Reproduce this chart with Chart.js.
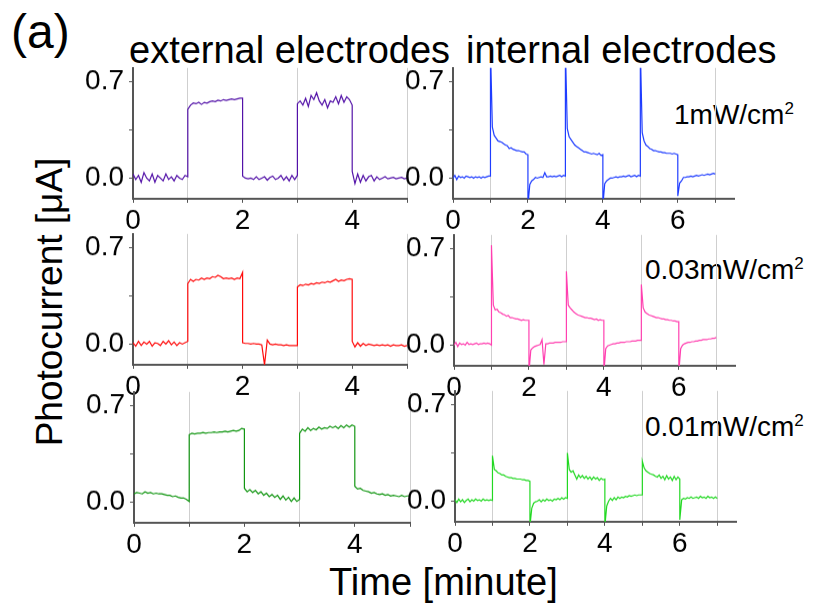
<!DOCTYPE html>
<html>
<head>
<meta charset="utf-8">
<script src="https://cdn.jsdelivr.net/npm/chart.js@4.4.1/dist/chart.umd.min.js"></script>
<style>
  html, body { margin: 0; padding: 0; background: #fff; }
  body { width: 819px; height: 611px; position: relative; overflow: hidden;
         font-family: "Liberation Sans", Arial, sans-serif; color: #000; }
  canvas { position: absolute; }
  .txt { position: absolute; white-space: nowrap; line-height: 1; }
  .sup { font-size: 17px; position: relative; top: -10px; }
</style>
</head>
<body>
<div class="txt" style="left:11px; top:8px; font-size:48px;">(a)</div>
<div class="txt" style="left:129px; top:31px; font-size:38px;">external electrodes</div>
<div class="txt" style="left:466px; top:31px; font-size:38px;">internal electrodes</div>
<div class="txt" style="left:49px; top:302px; font-size:37px; transform: translate(-50%, -50%) rotate(-90deg);">Photocurrent [μA]</div>
<div class="txt" style="left:329px; top:563px; font-size:38px;">Time [minute]</div>
<div class="txt" style="left:674px; top:101px; font-size:28px;">1mW/cm<span class="sup">2</span></div>
<div class="txt" style="left:645px; top:256px; font-size:28px;">0.03mW/cm<span class="sup">2</span></div>
<div class="txt" style="left:645px; top:413px; font-size:28px;">0.01mW/cm<span class="sup">2</span></div>

<script>
// Light switching times (minutes): each trace is stored as one segment per interval,
// sampled every 0.05 min from the start to the end of the interval.
const switchExternal = [0, 1, 2, 3, 4, 5];
const switchInternal = [0, 1, 2, 3, 4, 5, 6, 7];
const sampleStep = 0.05;

// Tick values
const xTicksExternal = [0, 1, 2, 3, 4, 5];
const xTicksInternal = [0, 1, 2, 3, 4, 5, 6, 7];
const yTicks = [0, 0.35, 0.7];
const yTickLabels = ['0.0', '', '0.7'];

// External electrodes, 1 mW/cm2 (µA)
const ext1mW = [
  [0.03, -0.01, 0.02, -0.03, 0.04, 0.0, -0.02, 0.03, -0.03, 0.02, 0.0, -0.02, 0.03, -0.01, 0.01, -0.02, 0.02, 0.0, -0.01, 0.02, 0.01],
  [0.50, 0.53, 0.545, 0.54, 0.55, 0.535, 0.55, 0.545, 0.555, 0.56, 0.555, 0.565, 0.56, 0.57, 0.565, 0.57, 0.575, 0.57, 0.575, 0.58, 0.58],
  [0.015, 0.0, -0.005, 0.0, -0.01, 0.01, -0.01, 0.0, 0.01, -0.015, 0.005, 0.015, -0.01, 0.0, 0.02, -0.015, 0.01, -0.02, 0.02, -0.01, 0.02],
  [0.54, 0.56, 0.53, 0.58, 0.52, 0.60, 0.57, 0.62, 0.56, 0.53, 0.57, 0.51, 0.56, 0.55, 0.59, 0.54, 0.60, 0.55, 0.59, 0.57, 0.53],
  [0.05, -0.04, 0.03, -0.03, 0.02, -0.02, 0.01, 0.02, -0.02, 0.01, -0.01, 0.0, 0.01, -0.005, 0.0, 0.005, -0.005, 0.0, 0.005, -0.005, 0.0]
];

// Internal electrodes, 1 mW/cm2
const int1mW = [
  [0.0, 0.02, -0.01, 0.015, 0.005, 0.01, 0.0, 0.015, 0.01, 0.005, 0.01, 0.0, 0.01, 0.005, 0.01, 0.0, 0.01, 0.005, 0.01, 0.015, 0.015],
  [0.95, 0.37, 0.31, 0.29, 0.27, 0.265, 0.26, 0.25, 0.24, 0.235, 0.215, 0.22, 0.21, 0.205, 0.2, 0.2, 0.195, 0.19, 0.19, 0.175, 0.17],
  [-0.2, -0.045, -0.02, -0.01, 0.005, 0.0, 0.005, 0.01, 0.005, 0.04, 0.01, 0.01, 0.015, 0.01, 0.015, 0.01, 0.015, 0.02, 0.01, 0.02, 0.015],
  [0.95, 0.36, 0.30, 0.28, 0.26, 0.24, 0.23, 0.22, 0.21, 0.2, 0.19, 0.19, 0.185, 0.18, 0.175, 0.18, 0.175, 0.17, 0.18, 0.165, 0.17],
  [-0.2, -0.04, -0.02, -0.01, 0.0, 0.0, 0.005, 0.01, 0.005, 0.01, 0.01, 0.015, 0.01, 0.015, 0.02, 0.01, 0.015, 0.02, 0.01, 0.02, 0.015],
  [0.95, 0.33, 0.27, 0.24, 0.23, 0.215, 0.21, 0.2, 0.2, 0.195, 0.19, 0.19, 0.185, 0.185, 0.18, 0.18, 0.18, 0.175, 0.18, 0.175, 0.17],
  [-0.13, -0.035, -0.02, 0.005, 0.005, 0.01, 0.01, 0.015, 0.01, 0.015, 0.02, 0.015, 0.02, 0.025, 0.02, 0.025, 0.03, 0.025, 0.03, 0.035, 0.03]
];

// External electrodes, 0.03 mW/cm2
const ext003mW = [
  [0.01, -0.015, 0.02, -0.01, 0.015, 0.0, 0.02, -0.015, 0.01, 0.005, -0.01, 0.02, 0.0, 0.025, -0.005, 0.015, -0.01, 0.01, 0.0, 0.01, 0.02],
  [0.44, 0.47, 0.455, 0.47, 0.465, 0.48, 0.47, 0.48, 0.475, 0.49, 0.485, 0.50, 0.49, 0.475, 0.48, 0.475, 0.48, 0.47, 0.48, 0.475, 0.52],
  [0.01, 0.005, 0.005, 0.0, 0.005, 0.0, 0.0, -0.005, -0.15, 0.03, 0.0, -0.005, 0.0, -0.005, -0.005, -0.01, -0.005, -0.01, -0.01, -0.01, -0.01],
  [0.415, 0.43, 0.425, 0.435, 0.43, 0.44, 0.435, 0.445, 0.44, 0.45, 0.445, 0.455, 0.45, 0.46, 0.47, 0.455, 0.465, 0.46, 0.47, 0.475, 0.47],
  [0.02, -0.02, 0.01, -0.015, 0.005, -0.01, 0.0, -0.005, -0.01, -0.005, -0.01, -0.005, -0.01, -0.005, -0.015, -0.005, -0.01, -0.01, -0.005, -0.015, -0.01]
];

// Internal electrodes, 0.03 mW/cm2
const int003mW = [
  [0.0, 0.02, -0.01, 0.015, 0.005, 0.01, 0.0, 0.02, 0.005, 0.01, 0.005, 0.01, 0.015, 0.005, 0.01, 0.01, 0.015, 0.01, 0.015, 0.01, 0.0],
  [0.725, 0.29, 0.255, 0.26, 0.24, 0.235, 0.225, 0.22, 0.21, 0.215, 0.2, 0.2, 0.195, 0.19, 0.19, 0.185, 0.18, 0.185, 0.18, 0.18, 0.18],
  [-0.2, -0.035, -0.02, -0.01, -0.005, 0.0, 0.005, 0.04, -0.14, 0.01, 0.01, 0.015, 0.015, 0.015, 0.02, 0.02, 0.02, 0.02, 0.025, 0.025, 0.025],
  [0.535, 0.29, 0.27, 0.255, 0.24, 0.23, 0.22, 0.215, 0.21, 0.205, 0.2, 0.2, 0.195, 0.195, 0.19, 0.185, 0.19, 0.18, 0.185, 0.18, 0.18],
  [-0.2, -0.025, -0.005, 0.0, 0.005, 0.01, 0.01, 0.015, 0.015, 0.02, 0.02, 0.02, 0.025, 0.025, 0.025, 0.03, 0.03, 0.03, 0.035, 0.035, 0.035],
  [0.44, 0.27, 0.24, 0.23, 0.22, 0.215, 0.21, 0.205, 0.2, 0.2, 0.195, 0.19, 0.19, 0.185, 0.185, 0.18, 0.18, 0.175, 0.175, 0.17, 0.17],
  [-0.2, -0.025, 0.0, 0.01, 0.015, 0.02, 0.02, 0.025, 0.025, 0.03, 0.03, 0.035, 0.035, 0.04, 0.04, 0.04, 0.045, 0.045, 0.05, 0.05, 0.055]
];

// External electrodes, 0.01 mW/cm2
const ext001mW = [
  [0.06, 0.07, 0.065, 0.06, 0.075, 0.065, 0.07, 0.06, 0.065, 0.06, 0.06, 0.055, 0.05, 0.05, 0.04, 0.045, 0.035, 0.03, 0.03, 0.02, 0.005],
  [0.49, 0.5, 0.495, 0.5, 0.5, 0.505, 0.5, 0.505, 0.505, 0.51, 0.505, 0.51, 0.51, 0.515, 0.51, 0.515, 0.52, 0.515, 0.52, 0.535, 0.53],
  [0.1, 0.075, 0.09, 0.07, 0.085, 0.06, 0.075, 0.05, 0.065, 0.04, 0.055, 0.035, 0.05, 0.02, 0.045, 0.015, 0.035, 0.005, 0.03, 0.005, 0.02],
  [0.5, 0.53, 0.515, 0.54, 0.52, 0.535, 0.525, 0.545, 0.53, 0.54, 0.535, 0.55, 0.54, 0.55, 0.535, 0.555, 0.54, 0.56, 0.545, 0.56, 0.55],
  [0.115, 0.095, 0.1, 0.085, 0.08, 0.075, 0.065, 0.07, 0.06, 0.055, 0.06, 0.05, 0.055, 0.045, 0.05, 0.045, 0.04, 0.05, 0.04, 0.045, 0.045]
];

// Internal electrodes, 0.01 mW/cm2
const int001mW = [
  [0.01, -0.01, 0.015, -0.005, 0.01, -0.01, 0.005, 0.015, -0.005, 0.01, 0.0, 0.015, 0.005, 0.01, 0.0, 0.015, 0.005, 0.01, 0.005, 0.01, 0.005],
  [0.33, 0.23, 0.22, 0.205, 0.2, 0.19, 0.19, 0.18, 0.175, 0.17, 0.17, 0.165, 0.165, 0.16, 0.16, 0.16, 0.155, 0.155, 0.15, 0.15, 0.145],
  [-0.18, -0.05, -0.015, -0.005, 0.0, 0.01, -0.005, 0.01, 0.0, 0.015, 0.005, 0.01, 0.0, 0.015, 0.01, 0.02, 0.01, 0.025, 0.015, 0.025, 0.02],
  [0.35, 0.23, 0.21, 0.22, 0.19, 0.16, 0.19, 0.17, 0.185, 0.165, 0.18, 0.16, 0.175, 0.155, 0.175, 0.16, 0.17, 0.15, 0.165, 0.155, 0.16],
  [-0.18, -0.035, 0.0, 0.02, 0.005, 0.025, 0.01, 0.03, 0.02, 0.03, 0.025, 0.035, 0.03, 0.04, 0.035, 0.04, 0.045, 0.04, 0.045, 0.045, 0.045],
  [0.29, 0.24, 0.22, 0.21, 0.2, 0.195, 0.19, 0.18, 0.175, 0.19, 0.165, 0.18, 0.155, 0.185, 0.16, 0.175, 0.15, 0.18, 0.155, 0.175, 0.16],
  [-0.135, 0.01, 0.02, 0.015, 0.025, 0.02, 0.03, 0.02, 0.025, 0.03, 0.02, 0.035, 0.025, 0.03, 0.02, 0.035, 0.025, 0.03, 0.02, 0.03, 0.02]
];

const FONT = "'Liberation Sans', Arial, sans-serif";
const PAD_TOP = 20, PAD_RIGHT = 15, Y_AXIS_W = 75, X_AXIS_H = 45;

// Turn the per-interval segments into {x, y} points; neighbouring segments share
// the switching time, which gives the vertical on/off edges.
function toPoints(segments, switches) {
  const pts = [];
  segments.forEach((seg, j) => {
    seg.forEach((v, i) => pts.push({ x: switches[j] + i * sampleStep, y: v }));
  });
  return pts;
}

function makePanel(p) {
  const w = (p.right - p.left), h = (p.bottom - p.top);
  let cw = w + Y_AXIS_W + PAD_RIGHT, ch = h + PAD_TOP + X_AXIS_H;

  const build = (cw, ch) => {
    const canvas = document.createElement('canvas');
    canvas.width = cw; canvas.height = ch;
    canvas.style.width = cw + 'px'; canvas.style.height = ch + 'px';
    canvas.style.left = (p.left - Y_AXIS_W) + 'px';
    canvas.style.top = (p.top - PAD_TOP) + 'px';
    document.body.appendChild(canvas);
    const chart = new Chart(canvas, {
      type: 'line',
      data: {
        datasets: [{
          data: toPoints(p.values, p.switches),
          borderColor: p.color,
          borderWidth: 1.2,
          pointRadius: 0,
          tension: 0,
          fill: false
        }]
      },
      options: {
        responsive: false,
        animation: false,
        events: [],
        layout: { padding: { top: PAD_TOP, right: PAD_RIGHT, left: 0, bottom: 0 } },
        plugins: { legend: { display: false }, tooltip: { enabled: false } },
        scales: {
          x: {
            type: 'linear',
            min: 0,
            max: p.xMax,
            afterBuildTicks: s => { s.ticks = p.xTicks.map(v => ({ value: v })); },
            afterFit: s => { s.height = X_AXIS_H; },
            ticks: {
              autoSkip: false, maxRotation: 0, padding: 1, color: '#000',
              font: { family: FONT, size: 28 },
              callback: v => (Math.round(v) % 2 === 0 ? String(Math.round(v)) : '')
            },
            grid: {
              drawOnChartArea: true,
              color: c => (c.tick && Math.round(c.tick.value) % 2 === 1 ? '#cfcfcf' : 'rgba(0,0,0,0)'),
              lineWidth: 1,
              tickLength: 4,
              tickColor: '#555'
            },
            border: { color: '#555', width: 2 }
          },
          y: {
            type: 'linear',
            min: -0.15,
            max: 0.8,
            afterBuildTicks: s => { s.ticks = yTicks.map(v => ({ value: v })); },
            afterFit: s => { s.width = Y_AXIS_W; },
            ticks: {
              autoSkip: false, padding: 5, color: '#000',
              font: { family: FONT, size: 28 },
              callback: v => {
                const k = yTicks.findIndex(t => Math.abs(t - v) < 1e-6);
                return k >= 0 ? yTickLabels[k] : '';
              }
            },
            grid: { drawOnChartArea: false, tickLength: 4, tickColor: '#555' },
            border: { color: '#555', width: 2 }
          }
        }
      }
    });
    return { canvas, chart };
  };

  let { canvas, chart } = build(cw, ch);
  let a = chart.chartArea;
  const dw = w - (a.right - a.left), dh = h - (a.bottom - a.top);
  if (Math.abs(dw) > 0.5 || Math.abs(dh) > 0.5) {
    chart.destroy(); canvas.remove();
    ({ canvas, chart } = build(cw + dw, ch + dh));
    a = chart.chartArea;
  }
  canvas.style.left = (p.left - a.left) + 'px';
  canvas.style.top = (p.top - a.top) + 'px';
}

const panels = [
  { values: ext1mW,   switches: switchExternal, xTicks: xTicksExternal, xMax: 5,   color: '#5312a8', left: 133, right: 407, top: 68,  bottom: 199 },
  { values: int1mW,   switches: switchInternal, xTicks: xTicksInternal, xMax: 7.5, color: '#1f3dff', left: 453, right: 734, top: 68,  bottom: 199 },
  { values: ext003mW, switches: switchExternal, xTicks: xTicksExternal, xMax: 5,   color: '#ff0a0a', left: 133, right: 407, top: 234, bottom: 365 },
  { values: int003mW, switches: switchInternal, xTicks: xTicksInternal, xMax: 7.5, color: '#ff40b0', left: 454, right: 735, top: 235, bottom: 366 },
  { values: ext001mW, switches: switchExternal, xTicks: xTicksExternal, xMax: 5,   color: '#129612', left: 134, right: 410, top: 392, bottom: 523 },
  { values: int001mW, switches: switchInternal, xTicks: xTicksInternal, xMax: 7.5, color: '#22d822', left: 455, right: 736, top: 391, bottom: 522 }
];
panels.forEach(makePanel);
</script>
</body>
</html>
